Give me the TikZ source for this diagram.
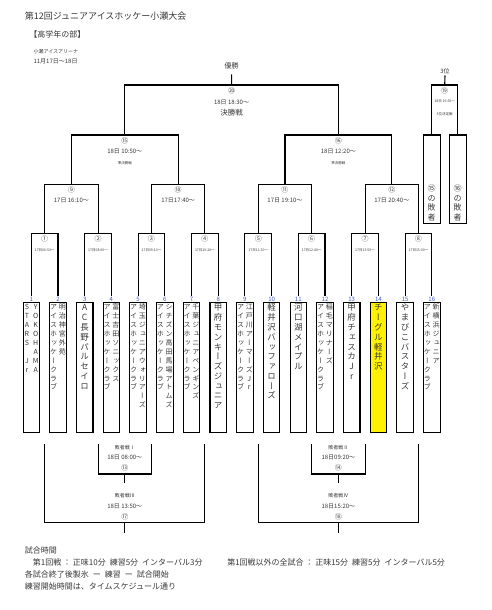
\documentclass[tikz,border=0pt]{standalone}
\usepackage{fontspec}
\setmainfont{Noto Sans CJK JP}
\newfontfamily\tatefont[RawFeature={+vert}]{Noto Sans CJK JP}
\usetikzlibrary{positioning}
\definecolor{numblue}{RGB}{60,90,190}
\definecolor{ink}{RGB}{55,55,55}

% vertical (tategaki) stacks, one glyph per row
\makeatletter
\newdimen\tateH \newdimen\tateD
\def\tate@char#1{\ifx\relax#1\else
  \hbox to 1.08em{\hss\vrule height\tateH depth\tateD width\z@ #1\hss}%
  \expandafter\tate@char\fi}
\newcommand\tate[2][1.15]{\vtop{\offinterlineskip\tatefont
  \tateH=#1em \advance\tateH .76em \divide\tateH 2
  \tateD=#1em \advance\tateD -\tateH
  \tate@char#2\relax}}
\makeatother
\newcommand\pair[2]{\tate[1.27]{#1}\hspace{1.2pt}\tate[1.27]{#2}}
\newcommand\tname[1]{\vbox to 130pt{\hbox to 16.5pt{\hss#1\hss}\vss}}
\newcommand\lname[1]{\vbox to 88.3pt{\vss\hbox to 16.7pt{\hss#1\hss}\vskip1pt}}

\begin{document}
\begin{tikzpicture}[x=1pt, y=-1pt, line width=1.1pt, text=ink,
  team/.style={draw, inner sep=0pt, minimum width=16.5pt, label distance=3pt},
  col1/.style={font=\fontsize{8.5}{10}\selectfont},
  col2/.style={font=\fontsize{7}{8}\selectfont},
  tnum/.style={font=\fontsize{6}{7}\selectfont, text=numblue, inner sep=.5pt},
  cnum/.style={font=\fontsize{7}{8}\selectfont, inner sep=0pt, text=black!70},
  tmid/.style={font=\fontsize{6}{7}\selectfont, inner sep=0pt},
  ttiny/.style={font=\fontsize{3.5}{4}\selectfont, inner sep=0pt},
  head/.style={anchor=west, inner sep=0pt},
  foot/.style={anchor=west, inner sep=0pt, font=\fontsize{8}{9}\selectfont}]
\useasboundingbox (0,0) rectangle (492,610);

% header
\node[head, font=\fontsize{9}{10}\selectfont] (title) at (24.3,16) {第12回ジュニアアイスホッケー小瀬大会};
\node[head, font=\fontsize{8}{9}\selectfont] (division) at (28.7,34) {【高学年の部】};
\node[head, font=\fontsize{5}{6}\selectfont] (venue) at (33,51.7) {小瀬アイスアリーナ};
\node[head, font=\fontsize{6}{7}\selectfont] (dates) at (33,61.7) {11月17日～18日};

% teams
\node[team, col2, label={[tnum,name=n1]above:1}] (t1) at (31.3,367.85) {\tname{\pair{STARS~Jr}{YOKOHAMA}}};
\node[team, col2, label={[tnum,name=n2]above:2}] (t2) at (58.0,367.85) {\tname{\pair{アイスホッケークラブ}{明治神宮外苑}}};
\node[team, col1, label={[tnum,name=n3]above:3}] (t3) at (84.7,367.85) {\tname{\tate{AC長野パルセイロ}}};
\node[team, col2, label={[tnum,name=n4]above:4}] (t4) at (111.4,367.85) {\tname{\pair{アイスホッケークラブ}{富士吉田ソニックス}}};
\node[team, col2, label={[tnum,name=n5]above:5}] (t5) at (138.1,367.85) {\tname{\pair{アイスホッケークラブ}{埼玉ジュニアウォリアーズ}}};
\node[team, col2, label={[tnum,name=n6]above:6}] (t6) at (164.8,367.85) {\tname{\pair{アイスホッケークラブ}{シチズン高田馬場アトムズ}}};
\node[team, col2, label={[tnum,name=n7]above:7}] (t7) at (191.5,367.85) {\tname{\pair{アイスホッケークラブ}{千葉ジュニアペンギンズ}}};
\node[team, col1, label={[tnum,name=n8]above:8}] (t8) at (218.2,367.85) {\tname{\tate{甲府モンキーズジュニア}}};
\node[team, col2, label={[tnum,name=n9]above:9}] (t9) at (244.9,367.85) {\tname{\pair{アイスホッケークラブ}{江戸川アーマーズJr}}};
\node[team, col1, label={[tnum,name=n10]above:10}] (t10) at (271.6,367.85) {\tname{\tate{軽井沢バッファローズ}}};
\node[team, col1, label={[tnum,name=n11]above:11}] (t11) at (298.3,367.85) {\tname{\tate{河口湖メイプル}}};
\node[team, col2, label={[tnum,name=n12]above:12}] (t12) at (325.0,367.85) {\tname{\pair{アイスホッケークラブ}{稲毛マリナーズ}}};
\node[team, col1, label={[tnum,name=n13]above:13}] (t13) at (351.7,367.85) {\tname{\tate{甲府チェスカJr}}};
\node[team, col1, fill=yellow, label={[tnum,name=n14]above:14}] (t14) at (378.4,367.85) {\tname{\tate{チーグル軽井沢}}};
\node[team, col1, label={[tnum,name=n15]above:15}] (t15) at (405.1,367.85) {\tname{\tate{やまびこバスターズ}}};
\node[team, col2, label={[tnum,name=n16]above:16}] (t16) at (431.8,367.85) {\tname{\pair{アイスホッケークラブ}{新横浜ジュニア}}};

% match points
\coordinate (m1) at (44.65,233.3); \coordinate (m2) at (98.05,233.3);
\coordinate (m3) at (151.45,233.3); \coordinate (m4) at (204.85,233.3);
\coordinate (m5) at (258.25,233.3); \coordinate (m6) at (311.65,233.3);
\coordinate (m7) at (365.05,233.3); \coordinate (m8) at (418.45,233.3);
\coordinate (m9) at (71.35,184.3); \coordinate (m10) at (178.15,184.3);
\coordinate (m11) at (284.95,184.3); \coordinate (m12) at (391.75,184.3);
\coordinate (m15) at (124.75,135); \coordinate (m16) at (338.35,135);
\coordinate (m20) at (231.55,85); \coordinate (m19) at (444.7,85);

% main bracket
\draw (n1.north) |- (m1) -| (n2.north);
\draw (n3.north) |- (m2) -| (n4.north);
\draw (n5.north) |- (m3) -| (n6.north);
\draw (n7.north) |- (m4) -| (n8.north);
\draw (n9.north) |- (m5) -| (n10.north);
\draw (n11.north) |- (m6) -| (n12.north);
\draw (n13.north) |- (m7) -| (n14.north);
\draw (n15.north) |- (m8) -| (n16.north);
\draw (m1) |- (m9) -| (m2);
\draw (m3) |- (m10) -| (m4);
\draw (m5) |- (m11) -| (m6);
\draw (m7) |- (m12) -| (m8);
\draw (m9) |- (m15) -| (m10);
\draw (m11) |- (m16) -| (m12);
\draw (m15) |- (m20) -| (m16);

\node[font=\fontsize{7}{8}\selectfont, inner xsep=0pt, inner ysep=5pt] (win) at (231.6,65.7) {優勝};
\draw (m20) -- (win.south);

% first round
\node[cnum, below=1.7pt of m1] (r1) {①};
\node[ttiny, below=6pt of r1] (tm1) {17日06:50～};
\node[cnum, below=1.7pt of m2] (r2) {②};
\node[ttiny, below=6pt of r2] (tm2) {17日08:00～};
\node[cnum, below=1.7pt of m3] (r3) {③};
\node[ttiny, below=6pt of r3] (tm3) {17日09:10～};
\node[cnum, below=1.7pt of m4] (r4) {④};
\node[ttiny, below=6pt of r4] (tm4) {17日10:20～};
\node[cnum, below=1.7pt of m5] (r5) {⑤};
\node[ttiny, below=6pt of r5] (tm5) {17日11:30～};
\node[cnum, below=1.7pt of m6] (r6) {⑥};
\node[ttiny, below=6pt of r6] (tm6) {17日12:40～};
\node[cnum, below=1.7pt of m7] (r7) {⑦};
\node[ttiny, below=6pt of r7] (tm7) {17日13:50～};
\node[cnum, below=1.7pt of m8] (r8) {⑧};
\node[ttiny, below=6pt of r8] (tm8) {17日15:00～};

% second round
\node[cnum, below=1.7pt of m9] (r9) {⑨};
\node[tmid, below=4pt of r9] (tm9) {17日 16:10～};
\node[cnum, below=1.7pt of m10] (r10) {⑩};
\node[tmid, below=4pt of r10] (tm10) {17日17:40～};
\node[cnum, below=1.7pt of m11] (r11) {⑪};
\node[tmid, below=4pt of r11] (tm11) {17日 19:10～};
\node[cnum, below=1.7pt of m12] (r12) {⑫};
\node[tmid, below=4pt of r12] (tm12) {17日 20:40～};

% semifinals and final
\node[cnum, below=2pt of m15] (r15) {⑮};
\node[tmid, below=3.3pt of r15] (tm15) {18日 10:50～};
\node[ttiny, below=6.5pt of tm15] (k15) {準決勝戦};
\node[cnum, below=2pt of m16] (r16) {⑯};
\node[tmid, below=3.3pt of r16] (tm16) {18日 12:20～};
\node[ttiny, below=6.5pt of tm16] (k16) {準決勝戦};
\node[cnum, below=2pt of m20] (r20) {⑳};
\node[tmid, below=4.5pt of r20] (tm20) {18日 18:30～};
\node[font=\fontsize{7.5}{8}\selectfont, inner sep=0pt, below=3.5pt of tm20] (k20) {決勝戦};

% third place
\node[team, minimum width=16.7pt, font=\fontsize{8}{9}\selectfont] (l15) at (431.7,179.15) {\lname{\tate[1.2]{⑮の敗者}}};
\node[team, minimum width=16.7pt, font=\fontsize{8}{9}\selectfont] (l16) at (457.7,179.15) {\lname{\tate[1.2]{⑯の敗者}}};
\draw (l15.north) |- (m19) -| (l16.north);
\node[font=\fontsize{6}{7}\selectfont, inner xsep=0pt, inner ysep=.5pt] (third) at (445,71.7) {3位};
\draw (m19) -- (third.south);
\node[cnum, below=2pt of m19] (r19) {⑲};
\node[ttiny, below=5pt of r19] (tm19) {18日 16:50～};
\node[ttiny, below=8pt of tm19] (k19) {3位決定戦};

% consolation
\coordinate (lo1) at (44.65,444); \coordinate (lo2) at (98.05,444);
\coordinate (lo3) at (151.45,444); \coordinate (lo4) at (204.85,444);
\coordinate (lo5) at (258.25,444); \coordinate (lo6) at (311.65,444);
\coordinate (lo7) at (365.05,444); \coordinate (lo8) at (418.45,444);
\coordinate (c13) at (124.75,474); \coordinate (c14) at (338.35,474);
\coordinate (c17) at (124.75,522.7); \coordinate (c18) at (338.35,522.7);
\coordinate (c13out) at (124.75,483); \coordinate (c14out) at (338.35,483);
\coordinate (c17out) at (124.75,533); \coordinate (c18out) at (338.35,533);

\draw (lo2) |- (c13) -| (lo3);
\draw (c13) -- (c13out);
\draw (lo6) |- (c14) -| (lo7);
\draw (c14) -- (c14out);
\draw (lo1) |- (c17) -| (lo4);
\draw (c17) -- (c17out);
\draw (lo5) |- (c18) -| (lo8);
\draw (c18) -- (c18out);

\node[cnum, above=2pt of c13] (r13) {⑬};
\node[tmid, above=3.5pt of r13] (tm13) {18日 08:00～};
\node[font=\fontsize{5}{6}\selectfont, inner sep=0pt, above=4.5pt of tm13] (k13) {敗者戦Ⅰ};
\node[cnum, above=2pt of c14] (r14) {⑭};
\node[tmid, above=3.5pt of r14] (tm14) {18日09:20～};
\node[font=\fontsize{5}{6}\selectfont, inner sep=0pt, above=4.5pt of tm14] (k14) {敗者戦Ⅱ};
\node[cnum, above=2pt of c17] (r17) {⑰};
\node[tmid, above=3.5pt of r17] (tm17) {18日 13:50～};
\node[font=\fontsize{5}{6}\selectfont, inner sep=0pt, above=4.5pt of tm17] (k17) {敗者戦Ⅲ};
\node[cnum, above=2pt of c18] (r18) {⑱};
\node[tmid, above=3.5pt of r18] (tm18) {18日15:20～};
\node[font=\fontsize{5}{6}\selectfont, inner sep=0pt, above=4.5pt of tm18] (k18) {敗者戦Ⅳ};

% notes
\node[foot] (f1) at (24.3,550) {試合時間};
\node[foot] (f2) at (32.3,562.3) {第1回戦 ： 正味10分\enspace 練習5分\enspace インターバル3分};
\node[foot] (f3) at (226.7,562.3) {第1回戦以外の全試合 ： 正味15分\enspace 練習5分\enspace インターバル5分};
\node[foot] (f4) at (24.3,574.3) {各試合終了後製氷\enspace ー\enspace 練習\enspace ー\enspace 試合開始};
\node[foot] (f5) at (24.3,586.7) {練習開始時間は、タイムスケジュール通り};
\end{tikzpicture}
\end{document}
